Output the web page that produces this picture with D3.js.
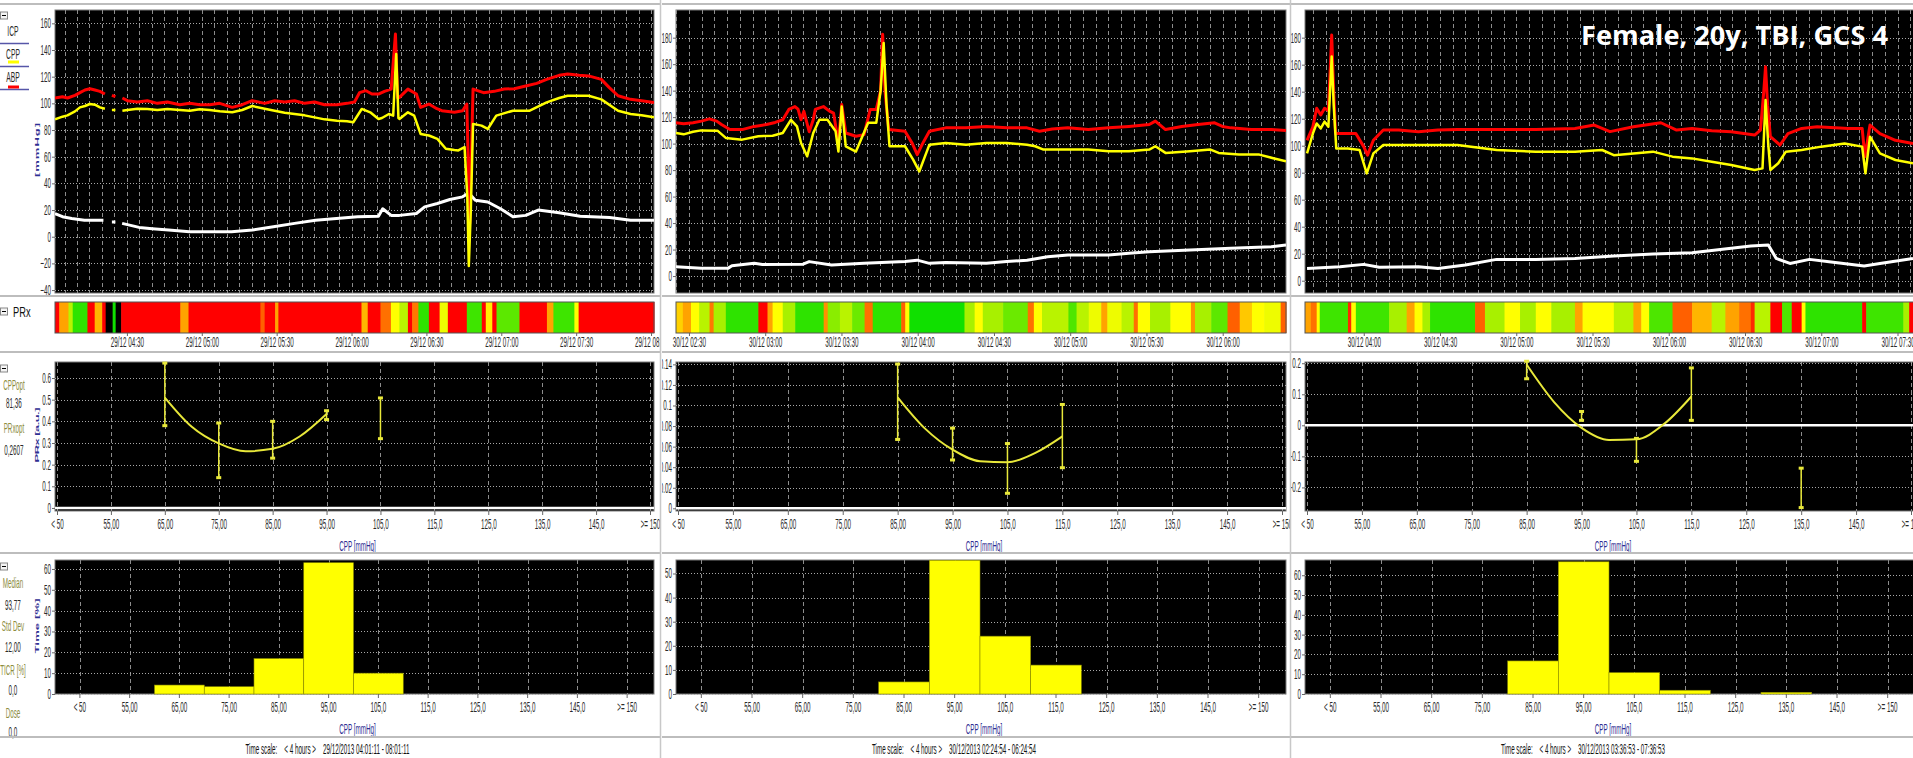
<!DOCTYPE html>
<html>
<head>
<meta charset="utf-8">
<script src="https://cdn.jsdelivr.net/npm/d3@7/dist/d3.min.js"></script>
<style>
  body { margin: 0; background: #fff; }
  svg { display: block; font-family: "Liberation Sans", Arial, sans-serif; }
</style>
</head>
<body>
<script>
// CPP bins shared by the PRx/CPP curve and the histogram
var cppCats = ["< 50", "55,00", "65,00", "75,00", "85,00", "95,00", "105,0", "115,0", "125,0", "135,0", "145,0", ">= 150"];
var cppVals = [45, 55, 65, 75, 85, 95, 105, 115, 125, 135, 145, 155];

// ---- recording 1 (29/12) : [minutes from start, mmHg]
var p1Start = "2013-12-29 04:01:11";
var p1Abp = [[0,104],[3,105],[5,104],[8,106],[10,108],[12,110],[14,111],[16,110],[18,109],[20,107],[21,null],[22.8,106],[24.2,105],[25,null],
  [27,104],[29,102],[33,101],[37,102],[41,100],[45,101],[50,99],[54,100],[58,99],[62,99],[66,100],[71,97],[75,99],[79,102],[84,100],[88,102],
  [92,101],[96,102],[100,100],[104,101],[108,99],[113,99],[117,100],[120,101],[122,108],[124.6,109.5],[127,107],[129.6,107],[132,109],[134.7,110.7],
  [136.4,152],[137.3,104],[138,104.5],[141.4,110.7],[144.8,107],[146.5,97],[149.8,99.5],[153,96],[155,94.5],[160,93.3],[163.3,94.5],[165,99.5],
  [165.8,40],[166.2,10],[166.8,60],[167.5,110.7],[171.7,108],[176,109],[180,110.7],[184,111],[188.6,113],[193,115],[197,118],[202,121],[205.4,122],
  [210,121],[213.8,120.6],[218.9,118],[222,112],[225.6,105.7],[230.6,103],[235,102],[240,100.7]];
var p1Cpp = [[0,88],[3,90],[5,91],[8,94],[10,97],[12,98],[14,99.5],[16,99],[18,97],[20,96],[21,null],[22.8,95],[24.2,95],[25,null],
  [27,94.5],[29,95],[33,96],[37,95.8],[41,95],[45,95.8],[50,95],[54,94.5],[58,95.5],[62,95],[66,94],[71,93.3],[75,95],[79,98],[84,96],[88,94.5],
  [92,93],[96,92],[100,91],[104,89.5],[108,88],[113,87],[117,86.5],[119.5,85.8],[122.9,95.8],[126.3,93.3],[129.6,88.3],[131,89],[133.8,92],
  [135.5,90.8],[136.7,137],[137.6,89],[138,88.3],[141.4,93.3],[143.9,90.8],[146.5,77],[149.8,75.9],[153.2,73.4],[156.6,66],[160,65],[161.6,64.7],
  [164.1,67.2],[165.2,30],[165.8,-22],[166.6,20],[167.5,84.6],[170.9,83.3],[173.4,80.8],[176.8,90.8],[183.5,94.5],[190.2,94.5],[197,100.7],
  [202,104],[205.4,105.7],[213.8,105.7],[218.9,103],[225.6,94.5],[230.6,92],[235,91],[240,89.5]];
var p1Icp = [[0,17.4],[3,15],[6.7,13.7],[11.8,12.4],[19.4,12.4],[20.5,null],[22.8,11],[24.2,11],[25,null],[26.9,10],[33.7,7],[39,6],[45.5,5],
  [53.9,3.7],[62.3,3.7],[70.7,3.7],[79.1,5],[87.5,7.5],[96,10],[104.4,12.4],[112.8,13.7],[121.2,15],[129.6,15.4],[131.3,21],[134.7,16],[138,16],
  [144.8,17.4],[148.1,22.4],[153.2,24.9],[158.2,27.9],[163.3,29.9],[165.8,32.8],[168.4,27.4],[173.4,26],[178.5,21],[183.5,15],[188.6,16],
  [193.6,20],[202,18],[210.4,15.4],[222.2,14.4],[230.6,12.4],[240,12.4]];
var p1PrxT = [0,1.7,5.4,7.1,13,15.9,18.9,20.3,23.1,24.3,26.5,50.2,53.5,82.3,84,88.2,89.5,122.8,125.3,130.4,134.6,138,141.4,143.1,145.6,149.8,154.1,157.4,165,171,172.6,175.2,176.9,186.1,197.1,199.7,208.1,209.8];
var p1PrxV = [0.5,0.3,0.12,0.02,0.5,0.28,0.5,null,0.0,null,0.5,0.3,0.5,0.38,0.5,0.3,0.5,0.28,0.5,0.36,0.2,0.12,0.5,0.35,0.02,0.5,0.18,0.5,0.03,0.5,0.22,0.5,0.05,0.5,0.3,0.03,0.2,0.5];
var p1BinX = [65, 75, 85, 95, 105];
var p1BinLo = [0.38, 0.14, 0.23, 0.408, 0.32];
var p1BinHi = [0.669, 0.392, 0.40, 0.449, 0.508];
var p1FitX = [65, 70, 75, 80, 85, 90, 95];
var p1FitY = [0.51, 0.375, 0.298, 0.262, 0.273, 0.33, 0.434];
var p1Hist = [0, 0, 4.3, 3.5, 17, 63, 10, 0, 0, 0, 0, 0];
var p1TrendTicks = [-40, -20, 0, 20, 40, 60, 80, 100, 120, 140, 160];
var p1PrxTicks = [0, 0.1, 0.2, 0.3, 0.4, 0.5, 0.6];
var p1HistTicks = [0, 10, 20, 30, 40, 50, 60];
var p1Opt = [["CPPopt", "81,36"], ["PRxopt", "0,2607"]];
var p1Stats = [["Median", "93,77"], ["Std Dev", "12,00"], ["TICR [%]", "0,0"], ["Dose", "0,0"]];

// ---- recording 2 (30/12 early)
var p2Start = "2013-12-30 02:24:54";
var p2Abp = [[0,115.7],[3,115],[6.7,115.7],[10,117],[13.1,118.7],[16,117],[17.9,114.4],[21.2,110.6],[26,110.6],[30.8,113],[35.6,114.4],[39,116],
  [42,118],[44.4,125.8],[46.8,128],[48,126],[49.2,118],[50.3,124.5],[52.4,109],[54,118],[54.8,125.8],[58,128],[60.4,124.5],[62,123],[63.9,100.5],
  [65.2,129.5],[66.8,108],[70.8,105.6],[74,106.8],[76.4,125.8],[78.8,125.8],[80.5,140],[81.3,182.6],[82.2,140],[83.7,110.6],[90.1,109.3],[93,100],
  [94.9,91.7],[97,100],[99.7,109.3],[106.1,111.9],[114.1,111.9],[122.1,113],[130.1,111.9],[138.1,111.9],[143,109.3],[148,111],[154.2,111.9],
  [162.2,110.6],[170.2,111.9],[178.2,113],[186.2,114.4],[188.6,117],[192.6,110.6],[199,113],[205.4,114.4],[211.9,115.7],[215,113],[218.3,111.9],
  [226.3,110.6],[234.3,110.6],[240,110]];
var p2Cpp = [[0,108],[3,107],[6.7,109],[9.9,110],[16.3,109.8],[19.6,104.3],[26,103],[32.4,105.6],[38,106],[42,108],[45.2,118],[47.6,113],[49.2,100.5],
  [51.6,90.4],[54,108],[56.4,118],[59.6,118],[62.8,109.3],[63.9,94],[65.2,128],[66.8,98],[70.8,94],[75.6,115.7],[78.8,115.7],[80.5,140],[81.7,176],
  [82.8,130],[84,98],[90.1,98],[93.3,87.9],[95.7,79],[99.7,99.2],[106.1,100.5],[114.1,99.2],[122.1,100.5],[130.1,100.5],[138.1,99.2],[141.3,98],
  [144.6,95.5],[154.2,95.5],[162.2,95.5],[170.2,94.2],[178.2,94.2],[186.2,95.5],[188.6,98],[192.6,93],[202.2,94.2],[210.3,95.5],[213.5,93],
  [221.5,91.7],[229.5,91.7],[235,89],[240,86.6]];
var p2Icp = [[0,7],[9.9,5.8],[20.4,5.8],[22,7.8],[30.8,9.6],[34,8.8],[50,9],[52.4,10.9],[61.2,8.3],[74,9.6],[90.1,10.9],[94.9,12],[99.7,9.6],
  [106.1,10.3],[122.1,9.6],[130.1,10.9],[138.1,12],[146.2,14.6],[154.2,15.9],[170.2,15.9],[178.2,17.2],[186.2,18.4],[202.2,19.7],[218.3,21],
  [234.3,22.2],[240,23.5]];
var p2PrxT = [0,2.7,5.9,9.1,13.2,14.8,19.6,32.4,36,38,42,46.9,58.1,59.7,64.5,69.3,74.2,77.4,88.6,90.2,91.8,113.5,117.5,120.7,128.7,138.4,140.8,144,154.4,157.6,162.4,167.3,169.7,175.3,180.1,181.7,186.5,194.5,202.6,204.2,210.6,217,221.8,226.6,231.4,237.9];
var p2PrxV = [0.25,0.3,0.2,0.12,0.35,0.1,0.02,0.5,0.3,0.2,0.1,0.02,0.32,0.08,0.12,0.06,0.36,0.02,0.38,0.2,0.0,0.1,0.2,0.1,0.06,0.36,0.2,0.12,0.04,0.12,0.18,0.3,0.18,0.12,0.36,0.2,0.1,0.2,0.32,0.1,0.05,0.38,0.26,0.2,0.18,0.38];
var p2BinX = [85, 95, 105, 115];
var p2BinLo = [0.067, 0.047, 0.0146, 0.0395];
var p2BinHi = [0.1403, 0.078, 0.063, 0.101];
var p2FitX = [85, 90, 95, 100, 105, 110, 115];
var p2FitY = [0.108, 0.0775, 0.057, 0.0458, 0.0448, 0.0537, 0.07];
var p2Hist = [0, 0, 0, 0, 5, 55.5, 24, 12, 0, 0, 0, 0];
var p2TrendTicks = [0, 20, 40, 60, 80, 100, 120, 140, 160, 180];
var p2PrxTicks = [0, 0.02, 0.04, 0.06, 0.08, 0.1, 0.12, 0.14];
var p2HistTicks = [0, 10, 20, 30, 40, 50];

// ---- recording 3 (30/12 later)
var p3Start = "2013-12-30 03:36:53";
var p3Abp = [[0.8,104],[3.1,114],[4.6,127.7],[6.2,122.7],[7.7,127.7],[9.2,126],[10.5,182],[11.3,140],[12,109],[13.8,109],[20,109],[23.1,99.3],
  [24.6,93],[26.9,104],[30.8,111.6],[36.9,111.6],[44.6,110.4],[52.3,111.6],[60,112],[75.4,112],[90.8,112],[106.2,112.8],[113.8,115.3],[120,110.4],
  [129.2,114],[140,117],[146.2,111.6],[152.3,112.8],[160,111],[167.7,110.4],[176.9,107.9],[179.2,111.6],[180.5,140],[181.2,158.5],[182,130],
  [183.1,106.7],[186.9,100.5],[190,109],[195.4,112.8],[201.5,114],[213.8,112.8],[219.2,112.8],[220.3,91.9],[222.3,115.3],[226.2,109],[232.3,104],
  [239.2,101.7]];
var p3Cpp = [[0.8,94.3],[3.1,109],[4.6,116.5],[6.2,112.8],[7.7,117.8],[9.2,114],[10.5,166],[11.3,130],[12.3,98],[16.9,98],[21.5,96.8],[24.3,79.5],
  [26.9,94.3],[30.8,100.5],[44.6,100.5],[60,100.5],[75.4,96.8],[90.8,95.6],[106.2,95.6],[116.9,96.8],[121.5,93],[136.9,95.6],[144.6,91.9],
  [152.3,90.6],[160,88.1],[167.7,85.7],[176.9,82],[180,83.2],[181.2,133.8],[182.3,100],[183.1,82],[186.2,87],[189.2,95.6],[195.4,96.8],
  [203.1,99.3],[212.3,101.7],[219.2,99.3],[220.5,79.5],[222.3,106.7],[226.2,94.3],[232.3,89.4],[239.2,87]];
var p3Icp = [[0.8,9.1],[13.8,10.4],[23.1,12.1],[29.2,9.9],[44.6,10.4],[52.3,9.1],[63.1,11.6],[75.4,15.8],[90.8,15.8],[106.2,16.5],[121.5,18.3],
  [136.9,19.8],[152.3,20.7],[167.7,24],[175.4,25.7],[182.3,26.4],[185.4,16.5],[190.8,12.8],[198.5,15.8],[206.2,14],[220,10.9],[226.2,12.8],
  [239.2,16.5]];
var p3PrxT = [0,2.3,4.6,5.8,16.9,18.2,20,33.1,40,43.1,46.2,49.2,66.9,70.8,78.5,84.6,90.8,96.9,106.2,109.2,121.5,129.2,132.3,135.4,144.6,152.3,160,165.4,170.8,175.4,176.9,183.1,187.7,191.5,195.4,196.9,219.2,220.8,235.4,237.7];
var p3PrxV = [0.3,0.36,0.2,0.03,0.45,0.2,0.03,0.1,0.3,0.2,0.1,0.02,0.38,0.1,0.2,0.1,0.2,0.1,0.3,0.2,0.12,0.3,0.2,0.04,0.38,0.28,0.12,0.3,0.36,0.45,0.12,0.5,0.04,0.5,0.2,0.02,0.5,0.03,0.1,0.5];
var p3BinX = [85, 95, 105, 115, 135];
var p3BinLo = [0.15, 0.016, -0.116, 0.016, -0.265];
var p3BinHi = [0.2065, 0.0446, -0.042, 0.185, -0.138];
var p3FitX = [85, 90, 95, 100, 105, 110, 115];
var p3FitY = [0.196, 0.075, -0.008, -0.047, -0.045, 0.004, 0.093];
var p3Hist = [0, 0, 0, 0, 16.7, 66.8, 10.8, 1.9, 0, 0.85, 0, 0];
var p3TrendTicks = [0, 20, 40, 60, 80, 100, 120, 140, 160, 180];
var p3PrxTicks = [-0.2, -0.1, 0, 0.1, 0.2];
var p3HistTicks = [0, 10, 20, 30, 40, 50, 60];

var caseTitle = "Female, 20y, TBI, GCS 4";

// layout of the three screenshots
var panels = [
  { start: p1Start, clip: [0, 660], x0: 55, x1: 654, abp: p1Abp, cpp: p1Cpp, icp: p1Icp, prxT: p1PrxT, prxV: p1PrxV,
    trendDom: [-42.2, 170], trendTicks: p1TrendTicks, sDom: [-0.014, 0.674], sTicks: p1PrxTicks,
    binX: p1BinX, binLo: p1BinLo, binHi: p1BinHi, fitX: p1FitX, fitY: p1FitY, hist: p1Hist, hTop: 64.3, hTicks: p1HistTicks, first: true },
  { start: p2Start, clip: [662, 1290], x0: 676, x1: 1286, abp: p2Abp, cpp: p2Cpp, icp: p2Icp, prxT: p2PrxT, prxV: p2PrxV,
    trendDom: [-12.8, 200.9], trendTicks: p2TrendTicks, sDom: [-0.0026, 0.1423], sTicks: p2PrxTicks,
    binX: p2BinX, binLo: p2BinLo, binHi: p2BinHi, fitX: p2FitX, fitY: p2FitY, hist: p2Hist, hTop: 55.6, hTicks: p2HistTicks },
  { start: p3Start, clip: [1290, 1913], x0: 1305, x1: 1915, abp: p3Abp, cpp: p3Cpp, icp: p3Icp, prxT: p3PrxT, prxV: p3PrxV,
    trendDom: [-9.1, 200.5], trendTicks: p3TrendTicks, sDom: [-0.276, 0.204], sTicks: p3PrxTicks,
    binX: p3BinX, binLo: p3BinLo, binHi: p3BinHi, fitX: p3FitX, fitY: p3FitY, hist: p3Hist, hTop: 67.7, hTicks: p3HistTicks, title: caseTitle }
];

var SQ = 0.45; // the screenshots were squeezed horizontally
var FS = 14;
var parseT = d3.timeParse("%Y-%m-%d %H:%M:%S");
var prxColor = d3.scaleLinear()
  .domain([0, 0.1, 0.2, 0.32, 0.5])
  .range(["#10e000", "#a8f000", "#ffff00", "#ff9000", "#ff0000"])
  .clamp(true);
var gridV = "#8c8c8c", gridH = "#a8a8a8", yel = "#e8e83a", blueTxt = "#2e2e92";

var svg = d3.select("body").append("svg").attr("width", 1913).attr("height", 758);
var defs = svg.append("defs");

function at(t0, m) { return new Date(+t0 + Math.round(m * 60000)); }

function squeeze(sel, k) {
  sel.each(function () {
    var t = d3.select(this);
    t.attr("x", (+t.attr("x") || 0) / k).attr("transform", "scale(" + k + ",1)");
  });
}

function label(g, x, y, txt, opts) {
  opts = opts || {};
  var t = g.append("text").attr("x", x).attr("y", y)
    .attr("text-anchor", opts.anchor || "middle")
    .attr("font-size", opts.size || FS)
    .attr("font-weight", opts.weight || null)
    .attr("fill", opts.fill || "#2a2a2a")
    .style("white-space", "pre")
    .text(txt);
  if (opts.len) t.attr("textLength", opts.len / (opts.k || SQ)).attr("lengthAdjust", "spacingAndGlyphs");
  t.call(squeeze, opts.k || SQ);
  return t;
}

function vTitle(g, x, y, txt, len) {
  g.append("text")
    .attr("transform", "translate(" + x + "," + y + ") scale(" + SQ + ",1) rotate(-90)")
    .attr("text-anchor", "middle").attr("dy", "0.35em")
    .attr("font-size", 13).attr("font-weight", "bold").attr("fill", blueTxt)
    .attr("textLength", len).attr("lengthAdjust", "spacing")
    .text(txt);
}

function styleAxis(ax) {
  ax.attr("font-family", null).attr("font-size", FS);
  ax.select(".domain").remove();
  ax.selectAll(".tick line").attr("stroke", "#666");
  ax.selectAll(".tick text").attr("fill", "#2a2a2a").call(squeeze, SQ);
}

function minus(g, y) {
  g.append("rect").attr("x", 0.5).attr("y", y).attr("width", 7).attr("height", 7)
    .attr("fill", "#f4f4f4").attr("stroke", "#888");
  g.append("line").attr("x1", 2).attr("x2", 6).attr("y1", y + 3.5).attr("y2", y + 3.5).attr("stroke", "#000");
}

function plotBox(g, x0, x1, top, bot) {
  g.append("rect").attr("x", x0).attr("y", top).attr("width", x1 - x0).attr("height", bot - top)
    .attr("fill", "#000").attr("stroke", "#7a7a7a");
}

function hGrid(g, vals, y, x0, x1) {
  g.selectAll(null).data(vals).enter().append("line")
    .attr("x1", x0).attr("x2", x1)
    .attr("y1", function (d) { return Math.round(y(d)) + 0.5; })
    .attr("y2", function (d) { return Math.round(y(d)) + 0.5; })
    .attr("stroke", gridH).attr("stroke-dasharray", "1,2");
}

function vGrid(g, vals, x, top, bot) {
  g.selectAll(null).data(vals).enter().append("line")
    .attr("x1", function (d) { return Math.round(x(d)) + 0.5; })
    .attr("x2", function (d) { return Math.round(x(d)) + 0.5; })
    .attr("y1", top).attr("y2", bot)
    .attr("stroke", gridV).attr("stroke-dasharray", "4,3");
}

// ABP / CPP / ICP trend
function drawTrend(g, p, x, i) {
  var top = 10, bot = 293, t0 = x.domain()[0];
  var y = d3.scaleLinear().domain(p.trendDom).range([bot, top]);
  plotBox(g, p.x0, p.x1, top, bot);
  vGrid(g, d3.timeMinute.every(5).range(t0, x.domain()[1]), x, top, bot);
  hGrid(g, p.trendTicks, y, p.x0, p.x1);

  var ax = g.append("g").attr("transform", "translate(" + p.x0 + ",0)")
    .call(d3.axisLeft(y).tickValues(p.trendTicks).tickSize(3).tickPadding(1));
  styleAxis(ax);

  defs.append("clipPath").attr("id", "tc" + i).append("rect")
    .attr("x", p.x0).attr("y", top).attr("width", p.x1 - p.x0).attr("height", bot - top);
  var lines = g.append("g").attr("clip-path", "url(#tc" + i + ")");
  var line = d3.line()
    .defined(function (d) { return d[1] !== null; })
    .x(function (d) { return x(at(t0, d[0])); })
    .y(function (d) { return y(d[1]); });
  [[p.icp, "#ffffff", 3], [p.abp, "#ff0000", 3], [p.cpp, "#ffff00", 2.5]].forEach(function (s) {
    lines.append("path").datum(s[0]).attr("d", line)
      .attr("fill", "none").attr("stroke", s[1]).attr("stroke-width", s[2]).attr("stroke-linejoin", "round");
  });

  if (p.first) {
    minus(g, 12);
    label(g, 13, 36, "ICP", { size: 15 });
    label(g, 13, 59, "CPP", { size: 15 });
    label(g, 13, 82, "ABP", { size: 15 });
    [43.5, 66.5, 89.5].forEach(function (yy) {
      g.append("line").attr("x1", 0).attr("x2", 29).attr("y1", yy).attr("y2", yy).attr("stroke", "#5656a8").attr("stroke-width", 1.5);
    });
    g.append("rect").attr("x", 8).attr("y", 60.5).attr("width", 11).attr("height", 3).attr("fill", "#ffff00");
    g.append("rect").attr("x", 8).attr("y", 85.5).attr("width", 11).attr("height", 3).attr("fill", "#ff0000");
    vTitle(g, 37, 150, "[mmHg]", 54);
  }
  if (p.title) {
    g.append("text").attr("x", 1581).attr("y", 45)
      .attr("font-family", "'Open Sans', Lato, sans-serif").attr("font-weight", "bold").attr("font-size", 26)
      .attr("fill", "#fff").attr("textLength", 307).attr("lengthAdjust", "spacingAndGlyphs")
      .text(p.title);
  }
}

// PRx colour strip with its time axis
function drawPrx(g, p, x) {
  var top = 302, bot = 333, t0 = x.domain()[0];
  var segs = p.prxT.map(function (t, k) {
    return { a: t, b: k < p.prxT.length - 1 ? p.prxT[k + 1] : 240, v: p.prxV[k] };
  });
  g.selectAll(null).data(segs).enter().append("rect")
    .attr("x", function (d) { return x(at(t0, d.a)); })
    .attr("width", function (d) { return x(at(t0, d.b)) - x(at(t0, d.a)) + 0.6; })
    .attr("y", top).attr("height", bot - top)
    .attr("fill", function (d) { return d.v === null ? "#000" : prxColor(d.v); });
  g.append("rect").attr("x", p.x0).attr("y", top).attr("width", p.x1 - p.x0).attr("height", bot - top)
    .attr("fill", "none").attr("stroke", "#555");

  var ax = g.append("g").attr("transform", "translate(0," + bot + ")")
    .call(d3.axisBottom(x).ticks(d3.timeMinute.every(30)).tickFormat(d3.timeFormat("%d/%m %H:%M")).tickSize(3).tickPadding(1));
  styleAxis(ax);

  if (p.first) {
    minus(g, 308);
    label(g, 13, 317, "PRx", { size: 15, fill: "#111", anchor: "start", k: 0.62 });
  }
}

// PRx vs CPP with error bars and fitted curve
function drawScatter(g, p) {
  var top = 362, bot = 511;
  var x = d3.scaleLinear().domain([45, 155]).range([p.x0 + 2, p.x1 - 4]);
  var y = d3.scaleLinear().domain(p.sDom).range([bot, top]);
  plotBox(g, p.x0, p.x1, top, bot);
  vGrid(g, cppVals, x, top, bot);
  hGrid(g, p.sTicks, y, p.x0, p.x1);
  g.append("line").attr("x1", p.x0).attr("x2", p.x1).attr("y1", y(0)).attr("y2", y(0))
    .attr("stroke", "#fff").attr("stroke-width", 2.5);

  var ay = g.append("g").attr("transform", "translate(" + p.x0 + ",0)")
    .call(d3.axisLeft(y).tickValues(p.sTicks).tickSize(3).tickPadding(1)
      .tickFormat(function (d) { return String(+d.toFixed(2)); }));
  styleAxis(ay);
  var ax = g.append("g").attr("transform", "translate(0," + bot + ")")
    .call(d3.axisBottom(x).tickValues(cppVals).tickSize(4).tickPadding(4)
      .tickFormat(function (d, k) { return cppCats[k]; }));
  styleAxis(ax);

  var fit = p.fitX.map(function (v, k) { return [v, p.fitY[k]]; });
  g.append("path").datum(fit)
    .attr("d", d3.line().curve(d3.curveMonotoneX)
      .x(function (d) { return x(d[0]); }).y(function (d) { return y(d[1]); }))
    .attr("fill", "none").attr("stroke", yel).attr("stroke-width", 2);

  var bars = g.selectAll(null).data(p.binX).enter().append("g");
  bars.append("line")
    .attr("x1", function (d) { return x(d); }).attr("x2", function (d) { return x(d); })
    .attr("y1", function (d, k) { return y(p.binLo[k]); }).attr("y2", function (d, k) { return y(p.binHi[k]); })
    .attr("stroke", yel).attr("stroke-width", 1.5);
  [p.binLo, p.binHi].forEach(function (arr) {
    bars.append("rect")
      .attr("x", function (d) { return x(d) - 2.5; })
      .attr("y", function (d, k) { return y(arr[k]) - 1.5; })
      .attr("width", 5).attr("height", 3).attr("fill", yel);
  });

  label(g, (p.x0 + p.x1) / 2 + 3, 551, "CPP [mmHg]", { fill: blueTxt });
  if (p.first) {
    minus(g, 365);
    p1Opt.forEach(function (o, k) {
      label(g, 14, 390 + k * 43, o[0], { fill: "#8d8d3e" });
      label(g, 14, 408 + k * 47, o[1]);
    });
    vTitle(g, 37, 435, "PRx [a.u.]", 55);
  }
}

// time spent in each CPP bin
function drawHist(g, p) {
  var top = 560, bot = 694;
  var x = d3.scaleBand().domain(cppCats).range([p.x0, p.x1 - 2]).padding(0);
  var y = d3.scaleLinear().domain([0, p.hTop]).range([bot, top]);
  plotBox(g, p.x0, p.x1, top, bot);
  g.selectAll(null).data(cppCats).enter().append("line")
    .attr("x1", function (d) { return Math.round(x(d) + x.bandwidth() / 2) + 0.5; })
    .attr("x2", function (d) { return Math.round(x(d) + x.bandwidth() / 2) + 0.5; })
    .attr("y1", top).attr("y2", bot)
    .attr("stroke", gridV).attr("stroke-dasharray", "4,3");
  hGrid(g, p.hTicks, y, p.x0, p.x1);

  g.selectAll(null).data(cppCats.map(function (c, k) { return { c: c, v: p.hist[k] }; }).filter(function (d) { return d.v > 0; }))
    .enter().append("rect")
    .attr("x", function (d) { return x(d.c); }).attr("width", x.bandwidth())
    .attr("y", function (d) { return y(d.v); }).attr("height", function (d) { return bot - y(d.v); })
    .attr("fill", "#ffff00").attr("stroke", "#8a8a00").attr("stroke-width", 0.6);

  var ay = g.append("g").attr("transform", "translate(" + p.x0 + ",0)")
    .call(d3.axisLeft(y).tickValues(p.hTicks).tickSize(3).tickPadding(1));
  styleAxis(ay);
  var ax = g.append("g").attr("transform", "translate(0," + bot + ")")
    .call(d3.axisBottom(x).tickSize(4).tickPadding(4));
  styleAxis(ax);

  label(g, (p.x0 + p.x1) / 2 + 3, 734, "CPP [mmHg]", { fill: blueTxt });
  if (p.first) {
    minus(g, 563);
    p1Stats.forEach(function (o, k) {
      label(g, 13, 588 + k * 43.5, o[0], { fill: "#8d8d3e" });
      label(g, 13, 610 + k * 42.5, o[1]);
    });
    vTitle(g, 37, 626, "Time [%]", 55);
  }
}

panels.forEach(function (p, i) {
  defs.append("clipPath").attr("id", "pc" + i).append("rect")
    .attr("x", p.clip[0]).attr("y", 0).attr("width", p.clip[1] - p.clip[0]).attr("height", 758);
  var g = svg.append("g").attr("clip-path", "url(#pc" + i + ")");
  var t0 = parseT(p.start), t1 = d3.timeHour.offset(t0, 4);
  var x = d3.scaleTime().domain([t0, t1]).range([p.x0, p.x1]);

  drawTrend(g, p, x, i);
  drawPrx(g, p, x);
  drawScatter(g, p);
  drawHist(g, p);

  // window frame lines between the rows
  [4, 296, 352, 553, 737].forEach(function (yy) {
    g.append("line").attr("x1", p.clip[0]).attr("x2", p.clip[1]).attr("y1", yy).attr("y2", yy)
      .attr("stroke", "#bdbdbd").attr("stroke-width", 2);
  });

  var span = d3.timeFormat("%d/%m/%Y %H:%M:%S")(t0) + " - " + d3.timeFormat("%H:%M:%S")(t1);
  label(g, (p.x0 + p.x1) / 2 - 27, 754, "Time scale:    < 4 hours >    " + span, { fill: "#111", len: 164 });
});

[660.5, 1290.5].forEach(function (xx) {
  svg.append("line").attr("x1", xx).attr("x2", xx).attr("y1", 0).attr("y2", 758)
    .attr("stroke", "#c8c8c8").attr("stroke-width", 1.5);
});
</script>
</body>
</html>
